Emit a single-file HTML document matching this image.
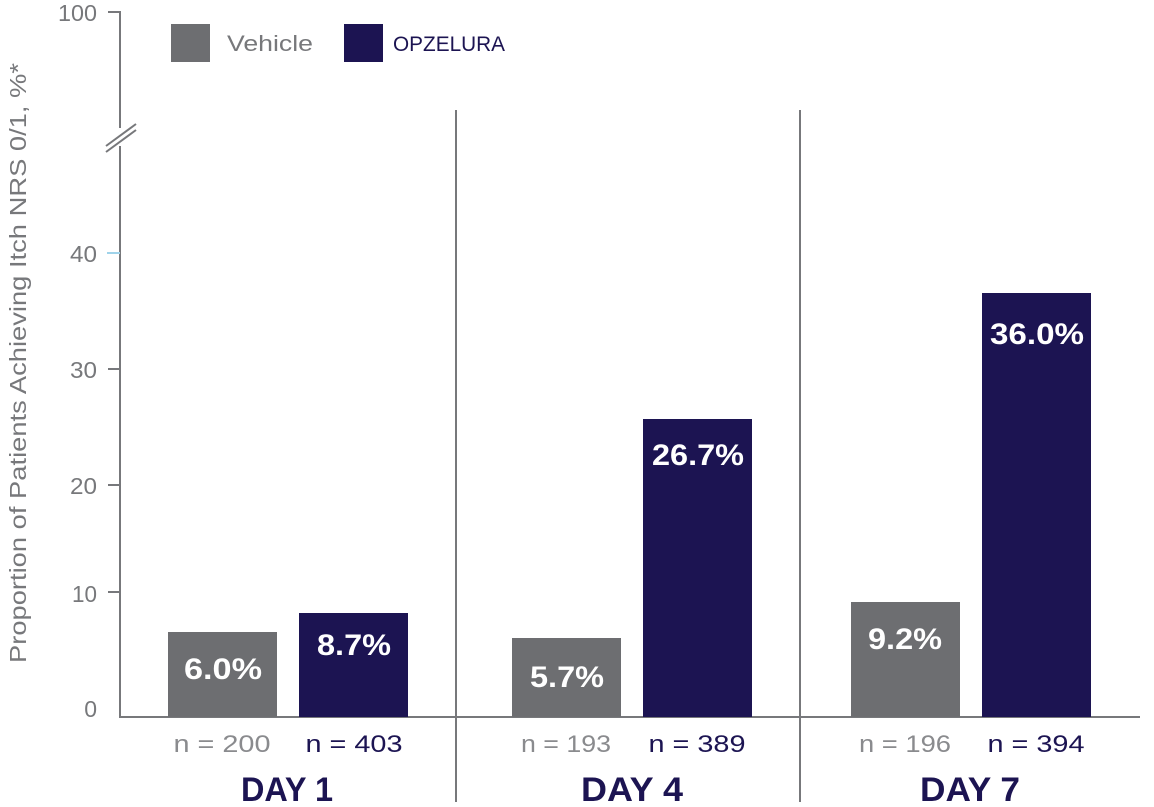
<!DOCTYPE html>
<html><head><style>
body{margin:0;background:#fff;}
svg text{font-family:"Liberation Sans",sans-serif;}
</style></head><body>
<svg width="1154" height="802" viewBox="0 0 1154 802" xmlns="http://www.w3.org/2000/svg">
<g stroke="#77787b" stroke-width="2" fill="none">
<polyline points="108,12 120,12 120,128"/>
<line x1="120" y1="146" x2="120" y2="718"/>
<line x1="106" y1="146" x2="136" y2="124"/>
<line x1="106" y1="152" x2="136" y2="130"/>
<line x1="108" y1="369" x2="120" y2="369"/>
<line x1="108" y1="485" x2="120" y2="485"/>
<line x1="108" y1="592" x2="120" y2="592"/>
<line x1="120" y1="717" x2="1140" y2="717"/>
<line x1="456" y1="110" x2="456" y2="802"/>
<line x1="800" y1="110" x2="800" y2="802"/>
</g>
<line x1="107" y1="253" x2="120" y2="253" stroke="#9fd3ea" stroke-width="2"/>
<g fill="#77787b" font-size="23" text-anchor="end" lengthAdjust="spacingAndGlyphs">
<text x="97" y="21" textLength="39" lengthAdjust="spacingAndGlyphs">100</text>
<text x="97" y="262" textLength="27" lengthAdjust="spacingAndGlyphs">40</text>
<text x="97" y="378" textLength="27" lengthAdjust="spacingAndGlyphs">30</text>
<text x="97" y="494" textLength="27" lengthAdjust="spacingAndGlyphs">20</text>
<text x="97" y="602" textLength="25" lengthAdjust="spacingAndGlyphs">10</text>
<text x="97" y="717">0</text>
</g>
<text transform="translate(26,363) rotate(-90)" fill="#77787b" font-size="23" text-anchor="middle" textLength="600" lengthAdjust="spacingAndGlyphs">Proportion of Patients Achieving Itch NRS 0/1, %*</text>
<rect x="171" y="24" width="39" height="38" fill="#6d6e71"/>
<text x="227" y="51" font-size="22" fill="#77787b" textLength="86" lengthAdjust="spacingAndGlyphs">Vehicle</text>
<rect x="344" y="24" width="39" height="38" fill="#1c1452"/>
<text x="393" y="51" font-size="21" fill="#1c1452" textLength="112" lengthAdjust="spacingAndGlyphs">OPZELURA</text>
<g fill="#6d6e71">
<rect x="168" y="632" width="109" height="85"/>
<rect x="512" y="638" width="109" height="79"/>
<rect x="851" y="602" width="109" height="115"/>
</g>
<g fill="#1c1452">
<rect x="299" y="613" width="109" height="104"/>
<rect x="643" y="419" width="109" height="298"/>
<rect x="982" y="293" width="109" height="424"/>
</g>
<g fill="#fff" font-size="30" font-weight="bold" text-anchor="middle">
<text x="223" y="679" textLength="78" lengthAdjust="spacingAndGlyphs">6.0%</text>
<text x="354" y="655" textLength="74" lengthAdjust="spacingAndGlyphs">8.7%</text>
<text x="567" y="687" textLength="74" lengthAdjust="spacingAndGlyphs">5.7%</text>
<text x="698" y="465" textLength="92" lengthAdjust="spacingAndGlyphs">26.7%</text>
<text x="905" y="649" textLength="74" lengthAdjust="spacingAndGlyphs">9.2%</text>
<text x="1037" y="344" textLength="94" lengthAdjust="spacingAndGlyphs">36.0%</text>
</g>
<g font-size="24" text-anchor="middle">
<text x="222" y="752" fill="#8a8b8e" textLength="97" lengthAdjust="spacingAndGlyphs">n = 200</text>
<text x="354" y="752" fill="#1c1452" textLength="97" lengthAdjust="spacingAndGlyphs">n = 403</text>
<text x="566" y="752" fill="#8a8b8e" textLength="90" lengthAdjust="spacingAndGlyphs">n = 193</text>
<text x="697" y="752" fill="#1c1452" textLength="97" lengthAdjust="spacingAndGlyphs">n = 389</text>
<text x="905" y="752" fill="#8a8b8e" textLength="92" lengthAdjust="spacingAndGlyphs">n = 196</text>
<text x="1036" y="752" fill="#1c1452" textLength="97" lengthAdjust="spacingAndGlyphs">n = 394</text>
</g>
<g font-size="34" font-weight="bold" fill="#1c1452" text-anchor="middle">
<text x="287" y="801" textLength="92" lengthAdjust="spacingAndGlyphs">DAY 1</text>
<text x="632" y="801" textLength="102" lengthAdjust="spacingAndGlyphs">DAY 4</text>
<text x="970" y="801" textLength="100" lengthAdjust="spacingAndGlyphs">DAY 7</text>
</g>
</svg>
</body></html>
